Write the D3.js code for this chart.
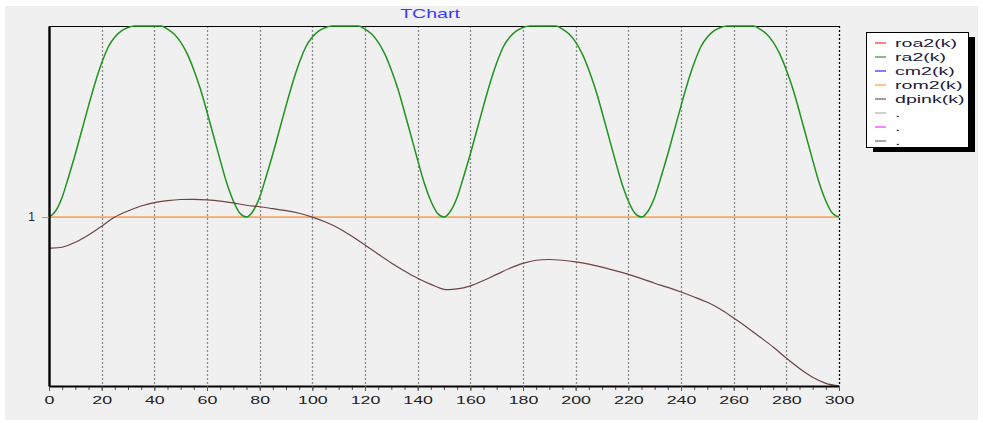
<!DOCTYPE html>
<html><head><meta charset="utf-8">
<script src="https://cdn.jsdelivr.net/npm/d3@7"></script>
<style>
html,body{margin:0;padding:0;background:#fff;}
svg{display:block;}
text{font-family:"Liberation Sans",Arial,sans-serif;}
</style></head>
<body>
<svg id="chart" width="983" height="423"></svg>
<script>
// ---- data ----
const xTicks = [0,20,40,60,80,100,120,140,160,180,200,220,240,260,280,300];
const yTicks = [1];
const legendNames = ["roa2(k)","ra2(k)","cm2(k)","rom2(k)","dpink(k)",".",".","."];
const legendColors = ["#ff0000","#008000","#0000ff","#ff8c1a","#5a3030","#a0a0a0","#ff00ff","#604060"];

// ra2(k), sampled every 2.5
const ra2X = d3.range(0, 300.01, 2.5);
const ra2 = [
1.000,1.016,1.052,1.107,1.165,1.228,1.291,1.351,1.403,1.445,1.471,1.487,1.496,1.500,1.500,1.500,1.500,1.500,1.492,1.479,1.458,1.427,1.385,1.335,1.275,1.212,1.149,1.089,1.042,1.010,
1.000,1.016,1.052,1.107,1.165,1.228,1.291,1.351,1.403,1.445,1.471,1.487,1.496,1.500,1.500,1.500,1.500,1.500,1.492,1.479,1.458,1.427,1.385,1.335,1.275,1.212,1.149,1.089,1.042,1.010,
1.000,1.016,1.052,1.107,1.165,1.228,1.291,1.351,1.403,1.445,1.471,1.487,1.496,1.500,1.500,1.500,1.500,1.500,1.492,1.479,1.458,1.427,1.385,1.335,1.275,1.212,1.149,1.089,1.042,1.010,
1.000,1.016,1.052,1.107,1.165,1.228,1.291,1.351,1.403,1.445,1.471,1.487,1.496,1.500,1.500,1.500,1.500,1.500,1.492,1.479,1.458,1.427,1.385,1.335,1.275,1.212,1.149,1.089,1.042,1.010,
1.000];

// rom2(k) and dpink(k), sampled every 5
const kX = d3.range(0, 300.01, 5);
const rom2 = [1,1,1,1,1,1,1,1,1,1,1,1,1,1,1,1,1,1,1,1,1,1,1,1,1,1,1,1,1,1,1,1,1,1,1,1,1,1,1,1,1,1,1,1,1,1,1,1,1,1,1,1,1,1,1,1,1,1,1,1,1];
const dpink = [
0.919,0.921,0.934,0.953,0.976,1.000,1.016,1.029,1.038,1.043,1.046,1.0465,1.045,1.042,1.037,1.031,1.027,1.022,1.017,1.010,
1.000,0.987,0.971,0.950,0.927,0.903,0.880,0.859,0.840,0.824,0.811,0.812,0.820,0.834,0.850,0.866,0.879,0.887,0.889,0.887,
0.883,0.877,0.869,0.860,0.850,0.839,0.827,0.816,0.804,0.791,0.777,0.759,0.736,0.712,0.686,0.660,0.631,0.604,0.581,0.565,
0.558];

// ---- layout ----
const svg = d3.select("#chart");
const L = 49, R = 839, T = 26, B = 386;

svg.append("rect").attr("x",5).attr("y",6).attr("width",973).attr("height",414).attr("fill","#f0f0f0");

const x = d3.scaleLinear().domain([0,300]).range([L,R]);
const allY = ra2.concat(dpink, rom2);
const y = d3.scaleLinear().domain(d3.extent(allY)).range([B,T]);

// grid
svg.append("g").selectAll("line").data(xTicks.filter(d=>d>0 && d<300)).join("line")
  .attr("x1",d=>Math.round(x(d))+0.5).attr("x2",d=>Math.round(x(d))+0.5)
  .attr("y1",T).attr("y2",B)
  .attr("stroke","#8a8a8a").attr("stroke-width",1.3).attr("stroke-dasharray","2,2");

// right dashed border
svg.append("line").attr("x1",Math.round(x(300))+0.5).attr("x2",Math.round(x(300))+0.5)
  .attr("y1",T).attr("y2",B).attr("stroke","#000").attr("stroke-width",1.3).attr("stroke-dasharray","2,2");
// top border
svg.append("line").attr("x1",L).attr("x2",R).attr("y1",T+0.5).attr("y2",T+0.5).attr("stroke","#000").attr("stroke-width",1);

// series
const line = d3.line().curve(d3.curveMonotoneX);
const smooth = d3.line().curve(d3.curveCatmullRom.alpha(0.5));
svg.append("path").attr("d", line(kX.map((d,i)=>[x(d), y(rom2[i])])))
  .attr("fill","none").attr("stroke","#f7a95c").attr("stroke-width",1.6);
svg.append("path").attr("d", line(ra2X.map((d,i)=>[x(d), y(ra2[i])])))
  .attr("fill","none").attr("stroke","#1f931f").attr("stroke-width",1.5);
svg.append("path").attr("d", smooth(kX.map((d,i)=>[x(d), y(dpink[i])])))
  .attr("fill","none").attr("stroke","#6e4242").attr("stroke-width",1.2);

// minor ticks
svg.append("g").attr("transform",`translate(0,${B})`)
  .call(d3.axisBottom(x).tickValues(d3.range(0,301,5)).tickSize(4).tickFormat(""))
  .call(g=>g.select(".domain").remove())
  .call(g=>g.selectAll("line").attr("stroke","#555"));

// x axis
const xa = svg.append("g").attr("transform",`translate(0,${B})`)
  .call(d3.axisBottom(x).tickValues(xTicks).tickSize(5).tickSizeOuter(0).tickPadding(5));
xa.select(".domain").attr("stroke","#000").attr("stroke-width",2.2);
xa.selectAll(".tick line").attr("stroke","#555");
xa.selectAll(".tick text").attr("font-size",11).attr("fill","#222")
  .attr("font-family","'Liberation Sans',Arial,sans-serif")
  .attr("transform","scale(1.62,1)");

// y axis
const ya = svg.append("g").attr("transform",`translate(${L},0)`)
  .call(d3.axisLeft(y).tickValues(yTicks).tickSize(7).tickSizeOuter(0).tickFormat(d3.format("d")).tickPadding(7));
ya.select(".domain").attr("stroke","#000").attr("stroke-width",2.4);
ya.selectAll(".tick line").attr("stroke","#999");
ya.selectAll(".tick text").attr("font-size",12).attr("fill","#2a1a40")
  .attr("font-family","'Liberation Sans',Arial,sans-serif");

// title
svg.append("text").attr("transform","translate(430,18) scale(1.63,1)")
  .attr("text-anchor","middle").attr("font-size",12).attr("fill","#3a3aff").text("TChart");

// legend
const lg = svg.append("g");
lg.append("rect").attr("x",873).attr("y",37).attr("width",102).attr("height",115).attr("fill","#000");
lg.append("rect").attr("x",866.5).attr("y",32.5).attr("width",102).attr("height",115)
  .attr("fill","#fff").attr("stroke","#000").attr("stroke-width",1);
const items = lg.selectAll("g.item").data(legendNames).join("g")
  .attr("transform",(d,i)=>`translate(0,${42.5 + i*14})`);
items.append("line").attr("x1",875).attr("x2",886).attr("y1",0.5).attr("y2",0.5)
  .attr("stroke",(d,i)=>legendColors[i]).attr("stroke-width",1);
items.append("text").attr("transform","translate(895,4) scale(1.78,1)")
  .attr("font-size",11).attr("fill","#1a1a3a").text(d=>d);
</script>
</body></html>
